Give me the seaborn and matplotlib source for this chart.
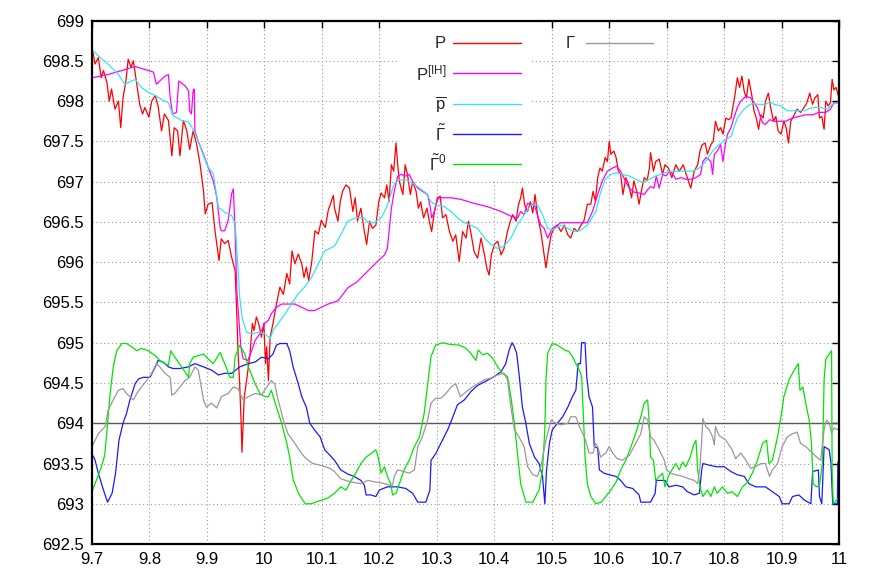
import numpy as np
import pandas as pd
import matplotlib
matplotlib.use("Agg")
import matplotlib.pyplot as plt
import seaborn as sns

# ---------------------------------------------------------------------------
# data, (x, value) pairs per series
# ---------------------------------------------------------------------------

P_PTS = [
    (9.702, 698.60), (9.705, 698.46), (9.711, 698.54), (9.716, 698.29), (9.720, 698.38),
    (9.726, 698.23), (9.730, 698.00), (9.734, 698.15), (9.740, 697.90), (9.746, 698.00),
    (9.750, 697.67), (9.754, 698.04), (9.759, 698.25), (9.763, 698.52), (9.768, 698.42),
    (9.772, 698.50), (9.778, 698.21), (9.783, 697.96), (9.788, 697.84), (9.792, 697.92),
    (9.799, 697.80), (9.804, 698.00), (9.810, 698.07), (9.815, 697.94), (9.821, 697.63),
    (9.826, 697.84), (9.833, 697.76), (9.839, 697.32), (9.843, 697.67), (9.849, 697.63),
    (9.853, 697.32), (9.859, 697.76), (9.865, 697.63), (9.870, 697.40), (9.876, 697.63),
    (9.882, 697.47), (9.888, 697.22), (9.894, 696.89), (9.897, 696.60), (9.902, 696.72),
    (9.909, 696.74), (9.914, 696.39), (9.921, 696.02), (9.925, 696.29), (9.931, 696.23),
    (9.937, 696.27), (9.943, 696.06), (9.949, 695.90), (9.952, 695.36), (9.954, 694.90),
    (9.957, 694.49), (9.960, 693.91), (9.961, 693.64), (9.965, 694.33), (9.969, 694.53),
    (9.975, 694.86), (9.979, 695.24), (9.982, 695.15), (9.986, 695.32), (9.990, 695.24),
    (9.995, 695.07), (9.999, 695.24), (10.002, 694.74), (10.004, 694.95), (10.007, 694.53),
    (10.010, 695.07), (10.015, 695.24), (10.021, 695.48), (10.027, 695.69), (10.033, 695.60),
    (10.039, 695.86), (10.044, 695.73), (10.048, 696.14), (10.053, 695.98), (10.059, 696.10),
    (10.065, 695.98), (10.069, 695.81), (10.073, 695.94), (10.077, 695.77), (10.082, 695.98),
    (10.088, 696.39), (10.094, 696.35), (10.099, 696.52), (10.106, 696.43), (10.111, 696.64),
    (10.120, 696.83),
    (10.122, 696.67), (10.128, 696.51), (10.132, 696.75), (10.136, 696.88), (10.142, 696.96),
    (10.148, 696.92), (10.154, 696.63), (10.158, 696.80), (10.162, 696.51), (10.168, 696.67),
    (10.174, 696.38), (10.178, 696.22), (10.183, 696.51), (10.188, 696.42), (10.194, 696.46),
    (10.199, 696.75), (10.203, 696.86), (10.209, 696.80), (10.213, 696.96), (10.217, 696.75),
    (10.221, 697.21), (10.225, 697.13), (10.229, 697.48), (10.232, 697.21), (10.235, 697.00),
    (10.241, 696.84), (10.245, 697.21), (10.249, 697.09), (10.254, 696.84), (10.258, 697.00),
    (10.264, 696.88), (10.268, 696.67), (10.272, 696.75), (10.277, 696.55), (10.283, 696.67),
    (10.287, 696.51), (10.291, 696.38), (10.296, 696.63), (10.301, 696.80), (10.306, 696.82),
    (10.310, 696.55), (10.316, 696.59), (10.322, 696.38), (10.328, 696.26), (10.333, 696.34),
    (10.339, 696.01), (10.345, 696.38), (10.351, 696.30), (10.355, 696.51), (10.359, 696.38),
    (10.365, 696.13), (10.371, 696.05), (10.377, 696.30), (10.383, 696.09), (10.387, 695.93),
    (10.391, 695.84), (10.395, 696.09), (10.400, 696.22), (10.406, 696.26), (10.412, 696.09),
    (10.417, 696.17), (10.423, 696.38), (10.428, 696.51), (10.432, 696.59), (10.438, 696.51),
    (10.442, 696.71), (10.446, 696.80), (10.449, 696.92), (10.453, 696.71), (10.458, 696.63),
    (10.463, 696.75), (10.467, 696.61), (10.471, 696.84), (10.476, 696.55), (10.481, 696.38),
    (10.486, 696.13), (10.490, 695.93), (10.494, 696.13), (10.499, 696.34), (10.504, 696.42),
    (10.510, 696.46), (10.516, 696.38), (10.522, 696.46), (10.528, 696.34), (10.533, 696.30),
    (10.539, 696.42), (10.545, 696.38), (10.551, 696.46), (10.556, 696.51),
    (10.562, 696.72), (10.568, 696.72), (10.572, 696.88), (10.576, 696.76), (10.580, 697.05),
    (10.584, 697.17), (10.588, 697.13), (10.593, 697.30), (10.597, 697.25), (10.600, 697.50),
    (10.603, 697.34), (10.608, 697.38), (10.612, 697.30), (10.616, 697.13), (10.620, 697.09),
    (10.624, 696.84), (10.629, 697.05), (10.634, 696.96), (10.639, 696.80), (10.643, 697.01),
    (10.648, 696.88), (10.652, 696.72), (10.657, 696.92), (10.661, 697.05), (10.666, 697.01),
    (10.670, 697.17), (10.672, 697.36), (10.677, 697.13), (10.681, 697.25), (10.687, 697.28),
    (10.693, 697.09), (10.697, 697.21), (10.703, 697.17), (10.709, 697.05), (10.716, 697.21),
    (10.722, 697.13), (10.729, 697.21), (10.734, 697.09), (10.742, 696.92), (10.748, 697.13),
    (10.754, 697.21), (10.758, 697.38), (10.762, 697.46), (10.767, 697.48), (10.771, 697.34),
    (10.777, 697.46), (10.781, 697.50), (10.785, 697.75), (10.790, 697.63), (10.794, 697.67),
    (10.798, 697.59), (10.803, 697.79), (10.808, 697.77), (10.812, 697.79), (10.816, 697.96),
    (10.819, 698.08), (10.823, 698.29), (10.827, 698.17), (10.831, 698.31), (10.835, 698.12),
    (10.839, 698.04), (10.843, 698.27), (10.848, 698.08), (10.852, 697.88), (10.856, 697.79),
    (10.860, 697.65), (10.864, 697.83), (10.868, 697.79), (10.872, 698.00), (10.877, 698.10),
    (10.881, 697.92), (10.886, 697.75), (10.890, 697.81), (10.894, 697.63), (10.899, 697.59),
    (10.904, 697.75), (10.908, 697.67), (10.912, 697.48), (10.916, 697.75), (10.922, 697.83),
    (10.927, 697.90), (10.933, 697.86), (10.939, 697.92), (10.944, 697.98), (10.949, 698.10),
    (10.954, 697.96), (10.958, 698.04), (10.963, 698.08), (10.966, 697.79), (10.970, 697.81),
    (10.974, 697.65), (10.977, 698.00), (10.981, 697.94), (10.985, 697.98), (10.988, 698.27),
    (10.991, 698.14), (10.995, 698.17), (10.999, 698.06),
]

P_IH_PTS = [
    (9.700, 698.29), (9.728, 698.33), (9.752, 698.38), (9.775, 698.43), (9.798, 698.38),
    (9.807, 698.36), (9.812, 698.21), (9.818, 698.25), (9.827, 698.31), (9.833, 698.33),
    (9.836, 698.05), (9.840, 697.84), (9.847, 697.86), (9.851, 698.25), (9.862, 698.19),
    (9.868, 698.13), (9.870, 697.88), (9.873, 697.84), (9.876, 698.13), (9.878, 698.15),
    (9.879, 697.63), (9.885, 697.50), (9.894, 697.34), (9.902, 697.18), (9.911, 697.01),
    (9.917, 696.81), (9.923, 696.43), (9.925, 696.39), (9.931, 696.39), (9.937, 696.52),
    (9.943, 696.85), (9.946, 696.91), (9.949, 696.39), (9.952, 695.65), (9.956, 695.24),
    (9.959, 694.95), (9.963, 694.80), (9.971, 694.78), (9.978, 694.90), (9.984, 695.03),
    (9.992, 695.11), (10.001, 695.24), (10.007, 695.28), (10.012, 695.36), (10.021, 695.44),
    (10.030, 695.48), (10.041, 695.48), (10.053, 695.48), (10.065, 695.44), (10.076, 695.40),
    (10.088, 695.40), (10.099, 695.44), (10.111, 695.48), (10.128, 695.52),
    (10.145, 695.68), (10.162, 695.76), (10.180, 695.89), (10.197, 696.01), (10.209, 696.09),
    (10.214, 696.17), (10.217, 696.38), (10.221, 696.67), (10.226, 696.88), (10.232, 697.07),
    (10.238, 697.09), (10.246, 697.07), (10.252, 697.09), (10.258, 697.00), (10.267, 696.92),
    (10.275, 696.88), (10.284, 696.84), (10.289, 696.67), (10.291, 696.55), (10.296, 696.63),
    (10.301, 696.78), (10.307, 696.80), (10.325, 696.80), (10.342, 696.78), (10.365, 696.73),
    (10.388, 696.69), (10.412, 696.63), (10.429, 696.57), (10.441, 696.55), (10.446, 696.63),
    (10.452, 696.59), (10.458, 696.73), (10.470, 696.71), (10.475, 696.59), (10.481, 696.46),
    (10.487, 696.42), (10.493, 696.30), (10.501, 696.42), (10.516, 696.49), (10.539, 696.49),
    (10.562, 696.49),
    (10.571, 696.63), (10.580, 696.84), (10.588, 697.01), (10.597, 697.13), (10.606, 697.17),
    (10.613, 697.19), (10.620, 697.13), (10.628, 697.01), (10.635, 696.92), (10.643, 696.87),
    (10.652, 696.86), (10.661, 696.84), (10.667, 696.90), (10.672, 696.94), (10.678, 696.92),
    (10.682, 697.07), (10.687, 696.92), (10.693, 697.09), (10.699, 697.07), (10.705, 697.13),
    (10.711, 697.09), (10.716, 697.03), (10.725, 697.05), (10.733, 697.03), (10.742, 697.03),
    (10.751, 697.05), (10.759, 697.09), (10.763, 697.25), (10.769, 697.30), (10.777, 697.25),
    (10.780, 697.09), (10.783, 697.34), (10.788, 697.38), (10.794, 697.46), (10.798, 697.25),
    (10.802, 697.46), (10.806, 697.59), (10.812, 697.67), (10.817, 697.79), (10.823, 697.92),
    (10.829, 698.00), (10.838, 698.06), (10.846, 698.04), (10.852, 697.98), (10.858, 697.92),
    (10.862, 697.83), (10.867, 697.73), (10.872, 697.71), (10.879, 697.77), (10.887, 697.75),
    (10.896, 697.75), (10.907, 697.75), (10.919, 697.79), (10.930, 697.81), (10.942, 697.83),
    (10.954, 697.83), (10.965, 697.86), (10.977, 697.86), (10.985, 697.90), (10.991, 697.98),
    (10.999, 697.98),
]

PBAR_PTS = [
    (9.700, 698.64), (9.711, 698.56), (9.728, 698.46), (9.746, 698.33), (9.757, 698.21),
    (9.775, 698.27), (9.786, 698.17), (9.798, 698.11), (9.810, 698.07), (9.821, 698.02),
    (9.833, 697.98), (9.841, 697.82), (9.856, 697.76), (9.868, 697.74), (9.876, 697.65),
    (9.885, 697.50), (9.894, 697.32), (9.902, 697.18), (9.911, 697.10), (9.920, 696.68),
    (9.931, 696.62), (9.943, 696.58), (9.949, 696.48), (9.953, 696.06), (9.957, 695.57),
    (9.961, 695.32), (9.969, 695.13), (9.978, 695.11), (9.989, 695.13), (10.001, 695.11),
    (10.010, 695.05), (10.015, 695.15), (10.024, 695.24), (10.036, 695.36), (10.047, 695.48),
    (10.059, 695.61), (10.070, 695.69), (10.082, 695.81), (10.094, 695.98), (10.105, 696.14),
    (10.122, 696.20), (10.133, 696.34), (10.145, 696.51), (10.159, 696.55), (10.174, 696.55),
    (10.180, 696.49), (10.191, 696.49), (10.203, 696.55), (10.212, 696.67), (10.220, 696.84),
    (10.226, 696.98), (10.235, 697.02), (10.246, 697.02), (10.258, 696.98), (10.270, 696.92),
    (10.281, 696.86), (10.290, 696.75), (10.298, 696.71), (10.313, 696.69), (10.325, 696.63),
    (10.336, 696.55), (10.348, 696.49), (10.359, 696.46), (10.371, 696.42), (10.383, 696.30),
    (10.394, 696.22), (10.406, 696.17), (10.417, 696.20), (10.429, 696.30), (10.440, 696.46),
    (10.452, 696.59), (10.464, 696.71), (10.475, 696.71), (10.484, 696.59), (10.493, 696.42),
    (10.501, 696.40), (10.516, 696.46), (10.528, 696.42), (10.539, 696.38), (10.551, 696.40),
    (10.562, 696.46),
    (10.577, 696.63), (10.584, 696.84), (10.593, 697.03), (10.603, 697.09), (10.612, 697.11),
    (10.623, 697.09), (10.635, 697.07), (10.646, 697.03), (10.658, 696.99), (10.670, 697.03),
    (10.681, 697.07), (10.696, 697.11), (10.710, 697.13), (10.722, 697.13), (10.733, 697.13),
    (10.745, 697.13), (10.757, 697.17), (10.768, 697.25), (10.780, 697.38), (10.791, 697.46),
    (10.803, 697.52), (10.813, 697.57), (10.817, 697.67), (10.823, 697.79), (10.832, 697.88),
    (10.841, 697.94), (10.849, 697.97), (10.861, 697.96), (10.872, 697.96), (10.879, 697.99),
    (10.887, 697.96), (10.899, 697.94), (10.910, 697.88), (10.925, 697.88), (10.939, 697.88),
    (10.954, 697.92), (10.968, 697.92), (10.980, 697.90), (10.988, 697.96), (10.999, 697.98),
]

GT_PTS = [
    (9.700, 693.62), (9.705, 693.55), (9.711, 693.38), (9.720, 693.17), (9.727, 693.02),
    (9.735, 693.13), (9.741, 693.38), (9.747, 693.79), (9.754, 694.00), (9.760, 694.12),
    (9.766, 694.29), (9.775, 694.49), (9.781, 694.55), (9.789, 694.57), (9.801, 694.57),
    (9.810, 694.70), (9.815, 694.78), (9.824, 694.76), (9.833, 694.70), (9.841, 694.68),
    (9.853, 694.68), (9.868, 694.70), (9.879, 694.74), (9.894, 694.70), (9.908, 694.66),
    (9.920, 694.60), (9.931, 694.62), (9.943, 694.62), (9.957, 694.70), (9.972, 694.74),
    (9.984, 694.76), (9.995, 694.82), (10.007, 694.80), (10.015, 694.86), (10.021, 694.97),
    (10.027, 694.99), (10.039, 694.99), (10.044, 694.90), (10.050, 694.70), (10.059, 694.49),
    (10.065, 694.33), (10.073, 694.20), (10.079, 694.00), (10.088, 693.91), (10.097, 693.83),
    (10.105, 693.67), (10.117, 693.58),
    (10.122, 693.54), (10.133, 693.42), (10.145, 693.37), (10.156, 693.34), (10.168, 693.29),
    (10.174, 693.23), (10.177, 693.11), (10.185, 693.11), (10.194, 693.09), (10.200, 693.17),
    (10.214, 693.21), (10.232, 693.21), (10.246, 693.19), (10.258, 693.13), (10.267, 693.02),
    (10.281, 693.02), (10.288, 693.17), (10.290, 693.54), (10.298, 693.62), (10.307, 693.75),
    (10.319, 693.92), (10.328, 694.08), (10.336, 694.23), (10.348, 694.29), (10.359, 694.39),
    (10.371, 694.47), (10.385, 694.52), (10.400, 694.58), (10.412, 694.64), (10.420, 694.74),
    (10.426, 694.91), (10.431, 695.00), (10.435, 694.95), (10.439, 694.87), (10.443, 694.62),
    (10.449, 694.20), (10.455, 694.00), (10.461, 693.75), (10.470, 693.58), (10.478, 693.50),
    (10.484, 693.34), (10.488, 693.00), (10.491, 693.42), (10.496, 693.75), (10.501, 693.92),
    (10.510, 694.00), (10.519, 694.08), (10.528, 694.20), (10.536, 694.33), (10.542, 694.41),
    (10.546, 694.74), (10.550, 694.74), (10.552, 695.00),
    (10.558, 695.00), (10.561, 694.58), (10.565, 694.33), (10.571, 694.20), (10.574, 693.71),
    (10.580, 693.69), (10.583, 693.42), (10.591, 693.38), (10.600, 693.36), (10.612, 693.34),
    (10.620, 693.29), (10.629, 693.21), (10.641, 693.19), (10.652, 693.11), (10.655, 693.02),
    (10.672, 693.02), (10.680, 693.13), (10.682, 693.29), (10.697, 693.29), (10.704, 693.21),
    (10.716, 693.23), (10.728, 693.21), (10.736, 693.15), (10.748, 693.11), (10.757, 693.13),
    (10.761, 693.42), (10.763, 693.50), (10.774, 693.48), (10.786, 693.46), (10.800, 693.46),
    (10.812, 693.40), (10.823, 693.36), (10.835, 693.34), (10.843, 693.25), (10.855, 693.21),
    (10.872, 693.21), (10.884, 693.15), (10.896, 693.09), (10.901, 693.00), (10.913, 693.00),
    (10.919, 693.09), (10.930, 693.11), (10.939, 693.05), (10.951, 693.00), (10.954, 693.40),
    (10.964, 693.42), (10.966, 693.09), (10.970, 693.00), (10.974, 693.71), (10.983, 693.67),
    (10.986, 693.50), (10.989, 693.00), (10.997, 693.00), (10.998, 693.52), (11.000, 693.52),
]

GT0_PTS = [
    (9.700, 693.15), (9.708, 693.30), (9.716, 693.45), (9.722, 693.60), (9.726, 693.90),
    (9.731, 694.33), (9.737, 694.70), (9.743, 694.90), (9.752, 694.99), (9.760, 694.99),
    (9.769, 694.95), (9.778, 694.90), (9.786, 694.93), (9.798, 694.90), (9.810, 694.84),
    (9.818, 694.78), (9.827, 694.74), (9.833, 694.72), (9.837, 694.90), (9.844, 694.82),
    (9.856, 694.70), (9.868, 694.57), (9.870, 694.74), (9.876, 694.82), (9.885, 694.84),
    (9.894, 694.86), (9.902, 694.80), (9.911, 694.74), (9.923, 694.88), (9.931, 694.74),
    (9.940, 694.57), (9.946, 694.57), (9.949, 694.82), (9.957, 694.97), (9.966, 694.86),
    (9.972, 694.70), (9.984, 694.49), (9.992, 694.37), (10.001, 694.33), (10.007, 694.33),
    (10.012, 694.41), (10.021, 694.20), (10.030, 694.00), (10.039, 693.75), (10.044, 693.58),
    (10.050, 693.30), (10.060, 693.12), (10.071, 693.00), (10.081, 693.00), (10.097, 693.04),
    (10.110, 693.07),
    (10.122, 693.13), (10.133, 693.21), (10.142, 693.17), (10.151, 693.29), (10.159, 693.38),
    (10.168, 693.50), (10.177, 693.58), (10.185, 693.62), (10.194, 693.67), (10.198, 693.58),
    (10.203, 693.38), (10.209, 693.46), (10.214, 693.34), (10.220, 693.25), (10.223, 693.11),
    (10.229, 693.13), (10.235, 693.25), (10.243, 693.42), (10.252, 693.54), (10.261, 693.71),
    (10.270, 693.83), (10.278, 694.12), (10.285, 694.54), (10.290, 694.83), (10.298, 694.97),
    (10.310, 695.00), (10.322, 694.98), (10.339, 694.97), (10.351, 694.93), (10.359, 694.87),
    (10.368, 694.78), (10.372, 694.91), (10.380, 694.85), (10.388, 694.87), (10.397, 694.81),
    (10.406, 694.70), (10.414, 694.62), (10.423, 694.58), (10.429, 694.33), (10.435, 694.00),
    (10.441, 693.58), (10.446, 693.25), (10.455, 693.02), (10.467, 693.02), (10.478, 693.17),
    (10.484, 693.42), (10.488, 693.92), (10.490, 694.54), (10.493, 694.87), (10.501, 694.99),
    (10.510, 694.97), (10.522, 694.91), (10.530, 694.89), (10.536, 694.83), (10.542, 694.74),
    (10.548, 694.66),
    (10.552, 694.58), (10.555, 694.12), (10.558, 693.58), (10.562, 693.25), (10.568, 693.09),
    (10.577, 693.00), (10.586, 693.02), (10.594, 693.09), (10.603, 693.17), (10.612, 693.27),
    (10.620, 693.42), (10.629, 693.54), (10.638, 693.71), (10.646, 693.87), (10.655, 694.08),
    (10.661, 694.25), (10.667, 694.29), (10.670, 693.96), (10.672, 693.58), (10.677, 693.54),
    (10.681, 693.29), (10.687, 693.34), (10.693, 693.38), (10.697, 693.21), (10.703, 693.34),
    (10.709, 693.42), (10.716, 693.50), (10.722, 693.42), (10.728, 693.52), (10.733, 693.46),
    (10.741, 693.58), (10.747, 693.73), (10.751, 693.79), (10.754, 693.42), (10.758, 693.21),
    (10.763, 693.09), (10.771, 693.17), (10.777, 693.09), (10.783, 693.21), (10.788, 693.13),
    (10.797, 693.21), (10.806, 693.13), (10.814, 693.15), (10.823, 693.09), (10.832, 693.21),
    (10.841, 693.27), (10.849, 693.38), (10.858, 693.54), (10.867, 693.75), (10.874, 693.79),
    (10.878, 693.50), (10.884, 693.54), (10.893, 693.83), (10.899, 694.08), (10.904, 694.33),
    (10.913, 694.54), (10.922, 694.66), (10.929, 694.74), (10.932, 694.41), (10.937, 694.45),
    (10.942, 694.25), (10.948, 694.04), (10.952, 693.75), (10.955, 693.25), (10.961, 693.21),
    (10.966, 693.23), (10.971, 693.50), (10.974, 694.54), (10.977, 694.80), (10.987, 694.90),
    (10.988, 693.42), (10.990, 693.00), (10.999, 693.07),
]

G_PTS = [
    (9.700, 693.71), (9.711, 693.87), (9.723, 693.96), (9.728, 694.16), (9.737, 694.29),
    (9.746, 694.41), (9.754, 694.43), (9.760, 694.37), (9.766, 694.33), (9.772, 694.29),
    (9.778, 694.37), (9.786, 694.45), (9.795, 694.53), (9.804, 694.62), (9.812, 694.74),
    (9.818, 694.70), (9.827, 694.62), (9.836, 694.57), (9.839, 694.35), (9.844, 694.37),
    (9.853, 694.45), (9.862, 694.53), (9.870, 694.57), (9.879, 694.70), (9.885, 694.66),
    (9.894, 694.29), (9.899, 694.20), (9.908, 694.25), (9.917, 694.19), (9.925, 694.33),
    (9.937, 694.37), (9.946, 694.45), (9.954, 694.43), (9.963, 694.29), (9.972, 694.33),
    (9.984, 694.37), (9.995, 694.35), (10.004, 694.45), (10.012, 694.53), (10.018, 694.49),
    (10.024, 694.29), (10.033, 694.04), (10.041, 693.87), (10.053, 693.75), (10.065, 693.62),
    (10.073, 693.56), (10.084, 693.50), (10.097, 693.48), (10.114, 693.44),
    (10.122, 693.40), (10.133, 693.31), (10.151, 693.27), (10.168, 693.25), (10.180, 693.29),
    (10.194, 693.27), (10.209, 693.25), (10.217, 693.23), (10.223, 693.23), (10.226, 693.34),
    (10.232, 693.42), (10.243, 693.40), (10.252, 693.38), (10.261, 693.42), (10.267, 693.71),
    (10.275, 693.83), (10.284, 694.04), (10.290, 694.25), (10.298, 694.31), (10.307, 694.31),
    (10.316, 694.37), (10.325, 694.45), (10.333, 694.49), (10.341, 694.33), (10.351, 694.39),
    (10.362, 694.45), (10.371, 694.49), (10.383, 694.54), (10.394, 694.56), (10.406, 694.60),
    (10.417, 694.62), (10.423, 694.54), (10.429, 694.20), (10.435, 693.92), (10.443, 693.83),
    (10.452, 693.71), (10.458, 693.46), (10.467, 693.36), (10.475, 693.34), (10.481, 693.46),
    (10.490, 693.79), (10.499, 694.04), (10.507, 694.00), (10.516, 693.98), (10.528, 694.00),
    (10.533, 694.08), (10.542, 694.08), (10.548, 693.96),
    (10.554, 693.87), (10.559, 693.79), (10.565, 693.63), (10.572, 693.63), (10.576, 693.75),
    (10.580, 693.71), (10.585, 693.58), (10.594, 693.63), (10.600, 693.71), (10.606, 693.63),
    (10.614, 693.56), (10.623, 693.54), (10.635, 693.60), (10.646, 693.75), (10.655, 693.87),
    (10.661, 694.08), (10.667, 694.04), (10.672, 693.83), (10.678, 693.79), (10.687, 693.67),
    (10.696, 693.54), (10.700, 693.42), (10.707, 693.38), (10.716, 693.36), (10.728, 693.34),
    (10.739, 693.31), (10.748, 693.29), (10.754, 693.25), (10.758, 693.46), (10.761, 693.79),
    (10.763, 694.06), (10.768, 693.96), (10.774, 693.92), (10.780, 693.83), (10.783, 693.73),
    (10.785, 693.96), (10.791, 693.85), (10.803, 693.79), (10.814, 693.67), (10.820, 693.56),
    (10.829, 693.63), (10.838, 693.54), (10.846, 693.44), (10.855, 693.46), (10.864, 693.50),
    (10.872, 693.50), (10.879, 693.34), (10.884, 693.42), (10.893, 693.50), (10.901, 693.71),
    (10.910, 693.83), (10.919, 693.87), (10.927, 693.89), (10.933, 693.75), (10.942, 693.71),
    (10.951, 693.65), (10.961, 693.58), (10.968, 693.54), (10.974, 693.92), (10.978, 694.04),
    (10.983, 694.00), (10.987, 693.87), (10.991, 693.94), (10.999, 693.92),
]

SERIES = ["P", "P_IH", "pbar", "Gt", "Gt0", "G"]
LABELS = ["P", r"P$^{\mathrm{[IH]}}$", r"$\overline{\mathrm{p}}$",
          r"$\tilde{\Gamma}$", r"$\tilde{\Gamma}^{0}$", r"$\Gamma$"]
COLORS = ["#ff0000", "#ff00ff", "#33e6ee", "#1a1aff", "#00e600", "#999999"]

XTICKS = [9.7, 9.8, 9.9, 10.0, 10.1, 10.2, 10.3, 10.4, 10.5, 10.6, 10.7, 10.8, 10.9, 11.0]
XTICK_LABELS = ["9.7", "9.8", "9.9", "10", "10.1", "10.2", "10.3", "10.4",
                "10.5", "10.6", "10.7", "10.8", "10.9", "11"]
YTICKS = [692.5, 693, 693.5, 694, 694.5, 695, 695.5, 696, 696.5, 697, 697.5, 698, 698.5, 699]
YTICK_LABELS = ["692.5", "693", "693.5", "694", "694.5", "695", "695.5",
                "696", "696.5", "697", "697.5", "698", "698.5", "699"]
HLINE = 694.0


def build_frame():
    frames = []
    for name, pts in zip(SERIES, [P_PTS, P_IH_PTS, PBAR_PTS, GT_PTS, GT0_PTS, G_PTS]):
        xs, ys = zip(*pts)
        frames.append(pd.DataFrame({"x": xs, "y": ys, "series": name}))
    return pd.concat(frames, ignore_index=True)


sns.set_theme(style="white")
plt.rcParams["font.family"] = ["Liberation Sans", "DejaVu Sans"]
plt.rcParams["mathtext.fontset"] = "custom"
plt.rcParams["mathtext.rm"] = "Liberation Sans"
plt.rcParams["mathtext.it"] = "Liberation Sans:italic"

df = build_frame()

fig = plt.figure(figsize=(8.72, 5.8), dpi=100)
ax = fig.add_axes([0.1055, 0.062, 0.8567, 0.9025])

ax.grid(True, color="#9a9a9a", linestyle=(0, (1, 2.5)), linewidth=0.8)
ax.set_axisbelow(True)

# white patch behind the first legend column (hides grid there)
ax.add_patch(plt.Rectangle((0.412, 0.697), 0.177, 0.303, transform=ax.transAxes,
                           facecolor="white", edgecolor="none", zorder=1.5))

ax.axhline(HLINE, color="#5a5a5a", lw=1.0, zorder=1.8)

sns.lineplot(data=df, x="x", y="y", hue="series", hue_order=SERIES,
             palette=dict(zip(SERIES, COLORS)), estimator=None, sort=False,
             legend=False, linewidth=0.9, ax=ax, zorder=2)

ax.set_xlim(9.7, 11.0)
ax.set_ylim(692.5, 699)
ax.set_xticks(XTICKS)
ax.set_xticklabels(XTICK_LABELS)
ax.set_yticks(YTICKS)
ax.set_yticklabels(YTICK_LABELS)
ax.set_xlabel("")
ax.set_ylabel("")
ax.tick_params(direction="in", length=5, width=1, top=True, right=True,
               labelsize=12, colors="black", pad=6)
for sp in ax.spines.values():
    sp.set_visible(True)
    sp.set_color("black")
    sp.set_linewidth(1.6)

# gnuplot-like key: label on the left, sample on the right
rows_y = [0.957, 0.8997, 0.841, 0.783, 0.7257]
for lab, col, yy in zip(LABELS[:5], COLORS[:5], rows_y):
    ax.plot([0.4837, 0.5739], [yy, yy], color=col, lw=1.0, transform=ax.transAxes, zorder=3)
    ax.text(0.474, yy, lab, transform=ax.transAxes, ha="right", va="center",
            fontsize=12, zorder=3)
ax.plot([0.661, 0.7514], [0.957, 0.957], color=COLORS[5], lw=1.0,
        transform=ax.transAxes, zorder=3)
ax.text(0.648, 0.957, LABELS[5], transform=ax.transAxes, ha="right", va="center",
        fontsize=12, zorder=3)

fig.savefig("out.png", dpi=100, facecolor="white")
